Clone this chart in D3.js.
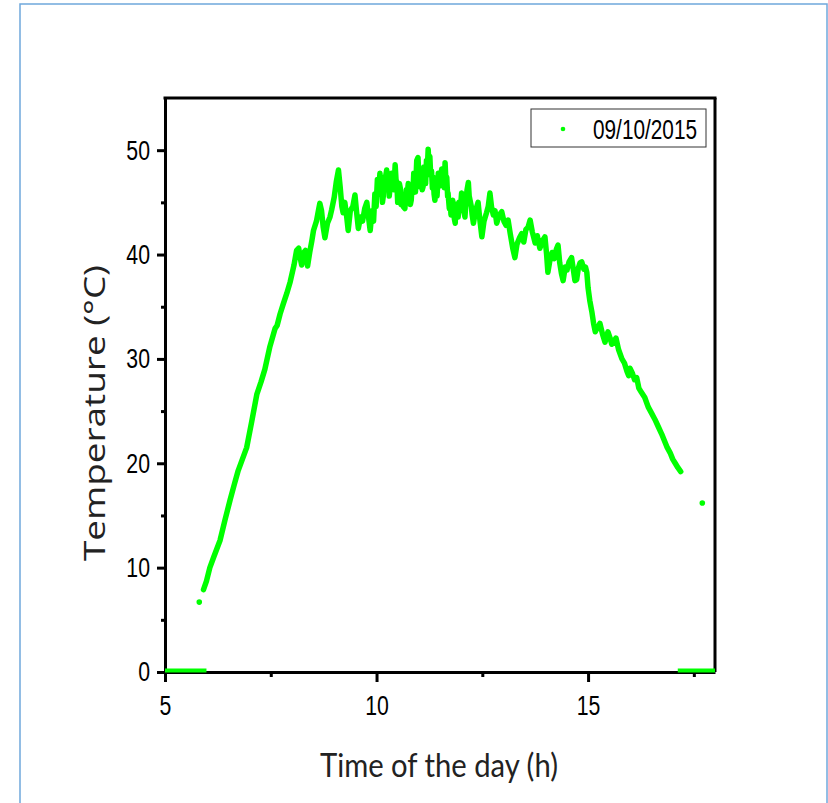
<!DOCTYPE html>
<html>
<head>
<meta charset="utf-8">
<script src="https://cdn.jsdelivr.net/npm/d3@7"></script>
<style>
  body { margin: 0; background: #fff; }
  svg { display: block; }
</style>
</head>
<body>
<div id="chart"></div>
<script>
// values: time of day (h) and temperature (°C)
const hours = [5.91, 5.98, 6.06, 6.15, 6.30, 6.42, 6.54, 6.64, 6.73, 6.83, 6.93, 7.05, 7.17, 7.27, 7.36, 7.48, 7.60, 7.65, 7.72, 7.79,
  7.88, 7.96, 8.05, 8.11, 8.16, 8.20, 8.23, 8.28, 8.32, 8.37, 8.42, 8.47, 8.51, 8.58, 8.63, 8.66, 8.70, 8.74, 8.78, 8.84,
  8.90, 8.94, 9.00, 9.05, 9.10, 9.14, 9.18, 9.21, 9.25, 9.29, 9.33, 9.38, 9.44, 9.49, 9.53, 9.57, 9.62, 9.67, 9.72, 9.77,
  9.81, 9.85, 9.88, 9.90, 9.93, 9.96, 9.99, 10.02, 10.05, 10.08, 10.10, 10.12, 10.14, 10.16, 10.18, 10.20, 10.22, 10.24, 10.26, 10.28,
  10.30, 10.32, 10.35, 10.38, 10.41, 10.44, 10.46, 10.48, 10.50, 10.51, 10.54, 10.56, 10.58, 10.60, 10.63, 10.67, 10.70, 10.72, 10.75, 10.78,
  10.80, 10.82, 10.84, 10.86, 10.88, 10.90, 10.92, 10.95, 10.98, 11.00, 11.02, 11.04, 11.06, 11.08, 11.10, 11.12, 11.14, 11.16, 11.18, 11.20,
  11.22, 11.24, 11.26, 11.28, 11.30, 11.32, 11.34, 11.36, 11.38, 11.40, 11.43, 11.46, 11.48, 11.51, 11.54, 11.56, 11.58, 11.60, 11.62, 11.64,
  11.66, 11.68, 11.69, 11.72, 11.74, 11.76, 11.78, 11.80, 11.82, 11.84, 11.86, 11.88, 11.90, 11.93, 11.95, 11.98, 12.01, 12.04, 12.06, 12.09,
  12.12, 12.14, 12.17, 12.19, 12.22, 12.24, 12.26, 12.29, 12.34, 12.40, 12.44, 12.49,
  12.54, 12.60, 12.64, 12.68, 12.72, 12.76, 12.80, 12.84, 12.90, 12.96, 13.01, 13.06, 13.11, 13.16, 13.22, 13.27, 13.32, 13.38, 13.43, 13.48,
  13.53, 13.58, 13.63, 13.68, 13.75, 13.80, 13.86, 13.92, 13.98, 14.02, 14.05, 14.10, 14.15, 14.20, 14.25, 14.29, 14.33, 14.37, 14.41, 14.46,
  14.50, 14.55, 14.61, 14.65, 14.69, 14.73, 14.77, 14.81, 14.85, 14.90, 14.94, 14.97, 15.00, 15.04, 15.09, 15.13, 15.17, 15.22, 15.28, 15.34,
  15.40, 15.44, 15.47, 15.52, 15.56, 15.60, 15.66, 15.72, 15.80, 15.86, 15.92, 15.96, 15.99, 16.05, 16.10, 16.15, 16.20, 16.26, 16.34, 16.42,
  16.50, 16.58, 16.66, 16.74, 16.80, 16.86, 16.94, 17.00, 17.06, 17.12, 17.19];
const temps = [7.9, 8.7, 10.0, 11.0, 12.6, 14.6, 16.5, 18.0, 19.3, 20.4, 21.5, 24.0, 26.6, 27.8, 29.0, 31.2, 32.9, 33.2, 34.3, 35.2,
  36.3, 37.4, 39.0, 40.4, 40.6, 39.6, 39.0, 40.2, 40.4, 38.9, 40.2, 41.3, 42.3, 43.2, 44.3, 44.9, 44.2, 42.6, 41.6, 43.0,
  43.6, 44.3, 45.5, 47.0, 48.1, 46.5, 44.6, 44.0, 45.0, 43.8, 42.3, 44.2, 44.6, 45.7, 44.0, 42.5, 43.6, 43.2, 44.4, 45.0,
  43.6, 42.3, 43.6, 44.2, 43.2, 45.8, 44.6, 47.2, 45.8, 47.8, 46.0, 46.5, 45.0, 45.6, 47.4, 46.8, 47.6, 48.1, 46.4, 47.0,
  45.6, 46.4, 47.8, 47.5, 46.2, 48.6, 47.2, 46.8, 45.0, 45.5, 46.8, 46.4, 44.8, 45.8, 44.6, 44.4, 46.2, 45.6, 46.8, 46.0,
  44.8, 45.2, 46.6, 45.9, 47.8, 47.3, 46.0, 49.0, 49.3, 47.6, 46.5, 48.0, 47.5, 46.2, 46.5, 48.4, 47.8, 46.8, 49.0, 48.2,
  50.1, 48.6, 49.4, 47.6, 48.0, 46.4, 47.4, 45.8, 45.2, 46.8, 45.6, 47.8, 47.5, 46.6, 48.2, 46.8, 47.2, 46.4, 48.8, 47.0,
  47.4, 45.6, 45.9, 44.4, 45.0, 43.8, 44.0, 45.2, 44.5, 43.4, 43.0, 44.8, 44.4, 43.6, 45.0, 44.2, 45.9, 44.6, 44.2, 43.6,
  45.5, 46.2, 46.9, 45.6, 45.0, 44.6, 43.8, 43.0, 44.2, 45.0, 43.4, 41.7,
  43.2, 44.0, 44.6, 45.9, 44.5, 43.8, 44.2, 43.0, 43.8, 44.1, 43.2, 42.8, 43.3, 42.0, 40.6, 39.7, 41.0, 41.6, 42.0, 41.2,
  42.4, 42.6, 43.3, 42.2, 41.1, 41.8, 40.6, 41.3, 41.7, 40.0, 38.3, 39.5, 40.2, 39.6, 40.5, 40.9, 39.2, 38.2, 37.5, 38.8,
  38.5, 39.3, 39.7, 38.6, 37.5, 37.6, 38.7, 39.2, 39.3, 38.6, 38.8, 38.3, 36.8, 35.6, 34.5, 33.4, 32.6, 33.0, 33.4, 32.4,
  31.6, 32.2, 32.6, 32.0, 31.4, 31.6, 32.0, 30.9, 30.0, 29.6, 28.8, 28.4, 29.1, 28.6, 28.0, 28.2, 27.2, 26.8, 26.3, 25.4,
  24.8, 24.2, 23.5, 22.8, 22.2, 21.6, 21.0, 20.4, 20.0, 19.6, 19.2];
// lone readings away from the main run
const loneHours = [5.81, 17.70];
const loneTemps = [6.7, 16.2];
// night-time zero readings (start, end)
const zeroStart = [5.0, 17.12];
const zeroEnd = [5.98, 18.0];

const seriesName = "09/10/2015";
const xTicks = [5, 10, 15];
const xMinor = [7.5, 12.5, 17.5];
const yTicks = [0, 10, 20, 30, 40, 50];
const yMinor = [5, 15, 25, 35, 45];

const W = 828, H = 803;
const margin = { top: 98, right: 113, bottom: 131, left: 165 };
const width = W - margin.left - margin.right;
const height = H - margin.top - margin.bottom;
const green = "#00ff00";
const tickFont = "'Liberation Sans', Arial, sans-serif";
const squeeze = 0.76;   // tick labels are a tall narrow face

const svg = d3.select("#chart")
  .append("svg")
  .attr("width", W)
  .attr("height", H);

// light blue frame around the figure
svg.append("rect")
  .attr("x", 20)
  .attr("y", 4)
  .attr("width", 807)
  .attr("height", 830)
  .attr("fill", "none")
  .attr("stroke", "#6fa8dc")
  .attr("stroke-width", 1.5);

const g = svg.append("g")
  .attr("transform", "translate(" + margin.left + "," + margin.top + ")");

const x = d3.scaleLinear().domain([5, 18]).range([0, width]);
const y = d3.scaleLinear().domain([0, 55]).range([height, 0]);

// axes
g.append("g")
  .attr("class", "x major")
  .attr("transform", "translate(0," + height + ")")
  .call(d3.axisBottom(x).tickValues(xTicks).tickSize(10).tickPadding(13).tickSizeOuter(0));
g.append("g")
  .attr("transform", "translate(0," + height + ")")
  .call(d3.axisBottom(x).tickValues(xMinor).tickSize(5).tickFormat("").tickSizeOuter(0))
  .call(a => a.select(".domain").remove());

g.append("g")
  .attr("class", "y major")
  .call(d3.axisLeft(y).tickValues(yTicks).tickSize(8).tickPadding(7).tickSizeOuter(0));
g.append("g")
  .call(d3.axisLeft(y).tickValues(yMinor).tickSize(4).tickFormat("").tickSizeOuter(0))
  .call(a => a.select(".domain").remove());

g.selectAll(".domain").attr("stroke", "#000").attr("stroke-width", 3);
g.selectAll(".tick line").attr("stroke", "#000").attr("stroke-width", 3);
g.selectAll(".tick text")
  .style("font-family", tickFont)
  .style("font-size", "28px")
  .attr("fill", "#000")
  .attr("transform", "scale(" + squeeze + ",1)");
g.selectAll(".y.major .tick text").attr("x", -15 / squeeze);

// top and right frame
g.append("line")
  .attr("x1", -1.5).attr("x2", width + 1.5)
  .attr("y1", 0).attr("y2", 0)
  .attr("stroke", "#000").attr("stroke-width", 3);
g.append("line")
  .attr("x1", width).attr("x2", width)
  .attr("y1", 0).attr("y2", height)
  .attr("stroke", "#000").attr("stroke-width", 3);

// the data
const pts = hours.map((h, i) => ({ h: h, t: temps[i] }));
const line = d3.line()
  .x(d => x(d.h))
  .y(d => y(d.t));

g.append("path")
  .datum(pts)
  .attr("d", line)
  .attr("fill", "none")
  .attr("stroke", green)
  .attr("stroke-width", 5.5)
  .attr("stroke-linejoin", "round")
  .attr("stroke-linecap", "round");

g.selectAll(".zero")
  .data(zeroStart)
  .enter().append("line")
  .attr("class", "zero")
  .attr("x1", d => x(d))
  .attr("x2", (d, i) => x(zeroEnd[i]))
  .attr("y1", y(0) - 1.5)
  .attr("y2", y(0) - 1.5)
  .attr("stroke", green)
  .attr("stroke-width", 4);

g.selectAll(".lone")
  .data(loneHours)
  .enter().append("circle")
  .attr("class", "lone")
  .attr("cx", d => x(d))
  .attr("cy", (d, i) => y(loneTemps[i]))
  .attr("r", 2.8)
  .attr("fill", green);

// legend
const leg = svg.append("g").attr("transform", "translate(531,109)");
leg.append("rect")
  .attr("width", 175)
  .attr("height", 38)
  .attr("fill", "#fff")
  .attr("stroke", "#333")
  .attr("stroke-width", 1);
leg.append("circle")
  .attr("cx", 32)
  .attr("cy", 20)
  .attr("r", 2.3)
  .attr("fill", green);
leg.append("text")
  .attr("x", 62)
  .attr("y", 29.5)
  .attr("textLength", 104)
  .attr("lengthAdjust", "spacingAndGlyphs")
  .style("font-family", tickFont)
  .style("font-size", "28px")
  .text(seriesName);

// axis titles
svg.append("text")
  .attr("transform", "translate(105,413) rotate(-90)")
  .attr("text-anchor", "middle")
  .attr("textLength", 296)
  .attr("lengthAdjust", "spacingAndGlyphs")
  .style("font-family", "'Open Sans', 'DejaVu Sans', sans-serif")
  .style("font-size", "30px")
  .attr("fill", "#222")
  .text("Temperature (°C)");

svg.append("text")
  .attr("x", 439)
  .attr("y", 777)
  .attr("text-anchor", "middle")
  .attr("textLength", 238)
  .attr("lengthAdjust", "spacingAndGlyphs")
  .style("font-family", "Lato, 'Open Sans', sans-serif")
  .style("font-size", "33px")
  .attr("fill", "#222")
  .text("Time of the day (h)");
</script>
</body>
</html>
